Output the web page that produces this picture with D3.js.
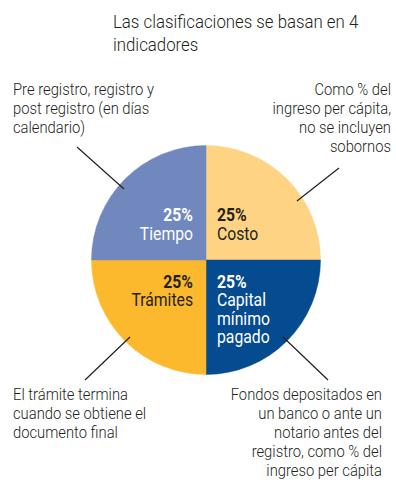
<!DOCTYPE html>
<html>
<head>
<meta charset="utf-8">
<script src="https://cdn.jsdelivr.net/npm/d3@7"></script>
<style>
  html, body { margin: 0; padding: 0; background: #fff; }
  svg { display: block; }
  text { font-family: Roboto, "Open Sans", sans-serif; }
</style>
</head>
<body>
<svg id="chart" width="396" height="480"></svg>
<script>
// Four equally weighted indicators
const categories = ["Costo", "Capital mínimo pagado", "Trámites", "Tiempo"];
const shares = [25, 25, 25, 25];
const sliceColors = ["#fed384", "#054b8f", "#fdb92e", "#7088bd"];
const labelColors = ["#231f20", "#ffffff", "#231f20", "#ffffff"];
const labelLines = [["Costo"], ["Capital", "mínimo", "pagado"], ["Trámites"], ["Tiempo"]];
const notes = [
  ["Como % del", "ingreso per cápita,", "no se incluyen", "sobornos"],
  ["Fondos depositados en", "un banco o ante un", "notario antes del", "registro, como % del", "ingreso per cápita"],
  ["El trámite termina", "cuando se obtiene el", "documento final"],
  ["Pre registro, registro y", "post registro (en días", "calendario)"]
];
const titleLines = ["Las clasificaciones se basan en 4", "indicadores"];

const svg = d3.select("#chart");
const cx = 206, cy = 260, r = 114.5;
const ink = "#231f20";
// Horizontal squeeze giving the narrow, condensed typeface look
const narrow = 0.9;

// A text block anchored at (x, 0) and squeezed horizontally
function block(parent, x, sx) {
  return parent.append("g")
    .attr("transform", `translate(${x},0) scale(${sx},1)`)
    .append("text");
}

// Title
block(svg, 113, narrow)
  .attr("font-size", 18.7).attr("font-weight", 300).attr("fill", ink)
  .selectAll("tspan").data(titleLines).join("tspan")
  .attr("x", 0).attr("y", (d, i) => 28 + i * 23)
  .text(d => d);

// Pie
const pie = d3.pie().sort(null).value(d => d);
const arcs = pie(shares);
const arc = d3.arc().innerRadius(0).outerRadius(r);
const g = svg.append("g").attr("transform", `translate(${cx},${cy})`);

g.selectAll("path").data(arcs).join("path")
  .attr("d", arc)
  .attr("fill", (d, i) => sliceColors[i])
  .attr("stroke", (d, i) => sliceColors[i])
  .attr("stroke-width", 0.5);

// Slice labels: right half left-aligned, left half right-aligned next to the centre line
const pad = 11;
arcs.forEach((a, i) => {
  const mid = (a.startAngle + a.endAngle) / 2;
  const right = Math.sin(mid) > 0;
  const top = Math.cos(mid) > 0;
  const x = right ? pad : -pad - 2;
  const y0 = top ? -39 : 28;
  const t = block(g, x, narrow)
    .attr("text-anchor", right ? "start" : "end")
    .attr("fill", labelColors[i])
    .attr("font-size", 17.5);
  t.append("tspan").attr("x", 0).attr("y", y0)
    .attr("font-weight", "bold").text(shares[i] + "%");
  labelLines[i].forEach((line, j) => {
    t.append("tspan").attr("x", 0).attr("y", y0 + 18.5 * (j + 1)).text(line);
  });
});

// Leader lines from each slice to its note
const leaders = [
  { from: [297, 201], to: [339, 168] },
  { from: [283, 337], to: [328, 380] },
  { from: [130, 337], to: [85, 380] },
  { from: [124, 189], to: [77, 147] }
];
svg.selectAll("line.leader").data(leaders).join("line")
  .attr("class", "leader")
  .attr("x1", d => d.from[0]).attr("y1", d => d.from[1])
  .attr("x2", d => d.to[0]).attr("y2", d => d.to[1])
  .attr("stroke", ink).attr("stroke-width", 1.2);

// Notes
const notePos = [
  { x: 391, y: 95, anchor: "end" },
  { x: 382, y: 400, anchor: "end" },
  { x: 13, y: 400, anchor: "start" },
  { x: 13, y: 95, anchor: "start" }
];
notes.forEach((lines, i) => {
  const p = notePos[i];
  block(svg, p.x, 0.88)
    .attr("text-anchor", p.anchor)
    .attr("fill", ink)
    .attr("font-size", 16.8)
    .attr("font-weight", 300)
    .selectAll("tspan").data(lines).join("tspan")
    .attr("x", 0)
    .attr("y", (d, j) => p.y + j * 18.9)
    .text(d => d);
});
</script>
</body>
</html>
